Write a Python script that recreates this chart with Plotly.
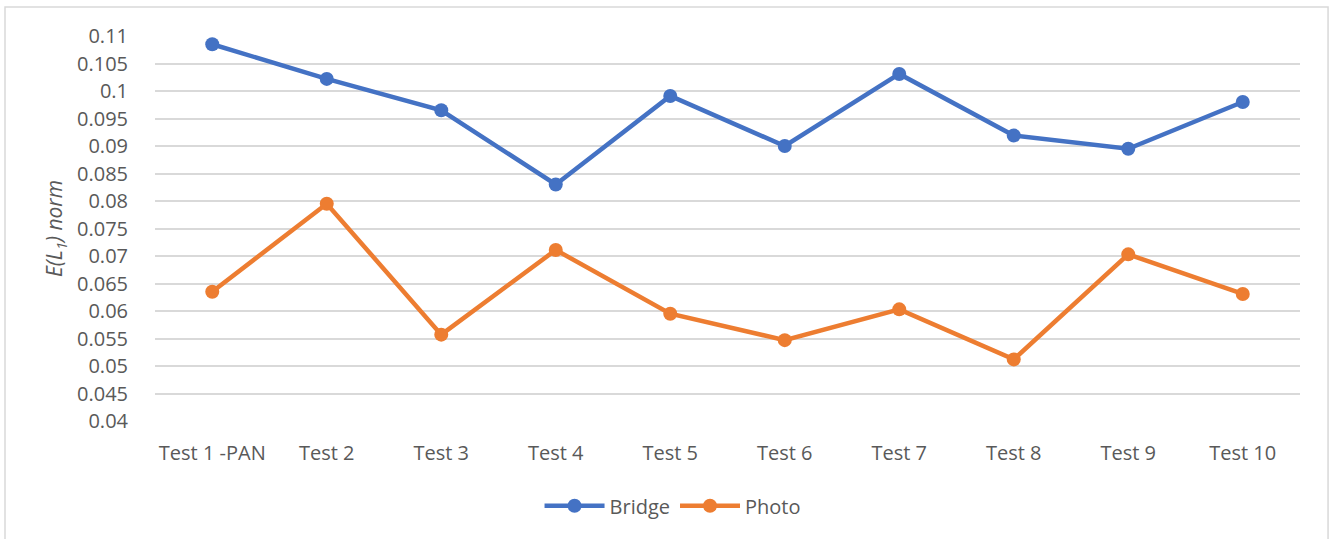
import plotly.graph_objects as go

categories = ["Test 1 -PAN", "Test 2", "Test 3", "Test 4", "Test 5",
              "Test 6", "Test 7", "Test 8", "Test 9", "Test 10"]
bridge = [0.1085, 0.1022, 0.0965, 0.0830, 0.0991, 0.0900, 0.1031, 0.0919, 0.0895, 0.0980]
photo = [0.0635, 0.0795, 0.0557, 0.0711, 0.0595, 0.0547, 0.0603, 0.0512, 0.0703, 0.0631]

y_ticks = [0.04, 0.045, 0.05, 0.055, 0.06, 0.065, 0.07, 0.075, 0.08, 0.085,
           0.09, 0.095, 0.1, 0.105, 0.11]
y_tick_labels = ["0.04", "0.045", "0.05", "0.055", "0.06", "0.065", "0.07", "0.075",
                 "0.08", "0.085", "0.09", "0.095", "0.1", "0.105", "0.11"]

FONT = "Open Sans, Liberation Sans, sans-serif"
TEXT = "#595959"
FS = 20

fig = go.Figure()
fig.add_trace(go.Scatter(x=categories, y=bridge, name="Bridge", mode="lines+markers",
                         line=dict(color="#4472C4", width=4.5),
                         marker=dict(size=14, color="#4472C4")))
fig.add_trace(go.Scatter(x=categories, y=photo, name="Photo", mode="lines+markers",
                         line=dict(color="#ED7D31", width=4.5),
                         marker=dict(size=14, color="#ED7D31")))

# light frame around the chart area
fig.add_shape(type="rect", xref="paper", yref="paper",
              x0=-0.131, x1=1.0245, y0=-0.31, y1=1.0753,
              line=dict(color="#D9D9D9", width=1.5), layer="below")

fig.update_layout(
    width=1330, height=539,
    margin=dict(l=155, r=30, t=36, b=118),
    paper_bgcolor="white", plot_bgcolor="white",
    font=dict(family=FONT, color=TEXT, size=FS),
    showlegend=True,
    legend=dict(orientation="h", x=0.452, xanchor="center", y=-0.22, yanchor="middle",
                font=dict(family=FONT, size=FS, color=TEXT), itemwidth=60),
    xaxis=dict(type="category", showgrid=False, showline=False, zeroline=False,
               ticks="", ticklabelstandoff=18,
               tickfont=dict(family=FONT, size=FS, color=TEXT), range=[-0.5, 9.5]),
    yaxis=dict(range=[0.04, 0.11], tickvals=y_ticks, ticktext=y_tick_labels,
               showgrid=True, gridcolor="#D9D9D9", gridwidth=1.5, zeroline=False,
               showline=False, ticks="", ticklabelstandoff=26,
               tickfont=dict(family=FONT, size=FS, color=TEXT),
               title=dict(text="<i>E(L<sub>1</sub>) norm</i>", standoff=8,
                          font=dict(family=FONT, size=21, color=TEXT))),
)

fig.write_html("out.html")
